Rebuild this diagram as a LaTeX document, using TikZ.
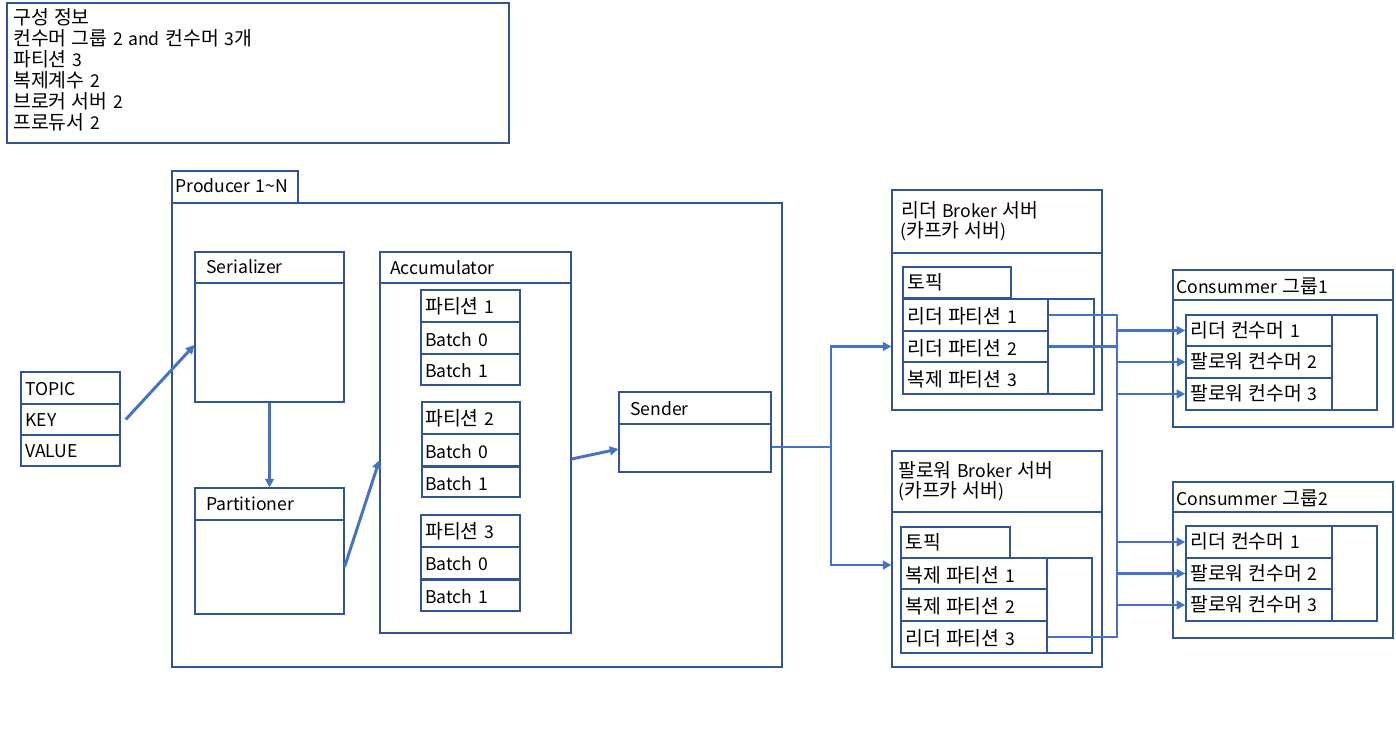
\documentclass[tikz,border=0pt]{standalone}
\usepackage{fontspec}
\setmainfont{Noto Sans CJK KR}[WordSpace=1.4]
\newfontfamily\krf{Noto Sans CJK KR}[Scale=1.1,WordSpace=1.2]
\newcommand\K[1]{{\krf #1}}
\usetikzlibrary{arrows.meta,fit,calc}
\definecolor{bx}{HTML}{2F5597}
\definecolor{ln}{HTML}{4472C4}
\tikzset{
  box/.style={draw=bx, line width=0.8pt, inner sep=0pt},
  row/.style={draw=bx, line width=1.1pt, inner sep=0pt},
  sep/.style={draw=bx, line width=0.8pt},
  txt/.style={anchor=base west, inner sep=0pt, font=\fontsize{13.2}{15}\selectfont, text=black},
  conn/.style={draw=ln, line width=2.2pt, -{Triangle[length=6.5pt,width=6.5pt]}},
  bus/.style={draw=ln, line width=2pt},
}
\begin{document}
\begin{tikzpicture}[x=0.75pt,y=-0.75pt]
\useasboundingbox (0,0) rectangle (1396,742);
\fill[white] (0,0) rectangle (1396,742);

% info box
\node[box, fit={(7,3)(509,143)}] (info) {};
\node[txt] (i1) at (13,24.5) {\K{구성 정보}};
\node[txt] (i2) at (13,45.5) {\K{컨수머 그룹} 2 and \K{컨수머} 3\K{개}};
\node[txt] (i3) at (13,66.5) {\K{파티션} 3};
\node[txt] (i4) at (13,87.5) {\K{복제계수} 2};
\node[txt] (i5) at (13,108.5) {\K{브로커 서버} 2};
\node[txt] (i6) at (13,129.5) {\K{프로듀서} 2};

% producer
\node[box, fit={(172,171)(298,203)}] (ptab) {};
\node[txt] at (175,192) {Producer 1\textasciitilde N};
\node[box, fit={(172,203)(782,667)}] (prod) {};

% record
\node[box, fit={(21,372)(120,404)}] (topic) {};
\node[row, fit={(21,404)(120,435)}] (key) {};
\node[box, fit={(21,435)(120,466)}] (value) {};
\node[txt] at (25,395) {TOPIC};
\node[txt] at (25,426) {KEY};
\node[txt] at (25,457) {VALUE};

% serializer
\node[box, fit={(195,252)(344,402)}] (ser) {};
\draw[sep] (195,283) -- (344,283);
\node[txt] at (206,273) {Serializer};

% partitioner
\node[box, fit={(195,488)(344,614)}] (part) {};
\draw[sep] (195,520) -- (344,520);
\node[txt] at (206,510) {Partitioner};

% accumulator
\node[box, fit={(380,252)(571,633)}] (acc) {};
\draw[sep] (380,283) -- (571,283);
\node[txt] at (390,274) {Accumulator};

\node[box, fit={(421,290)(520,322)}] (p1) {};
\node[row, fit={(421,322)(520,354)}] (p1b0) {};
\node[box, fit={(421,354)(520,385)}] (p1b1) {};
\node[txt] at (425,313) {\K{파티션} 1};
\node[txt] at (425,346) {Batch 0};
\node[txt] at (425,377) {Batch 1};

\node[box, fit={(422,402)(520,434)}] (p2) {};
\node[row, fit={(422,434)(520,466)}] (p2b0) {};
\node[box, fit={(422,467)(520,497)}] (p2b1) {};
\node[txt] at (425,425) {\K{파티션} 2};
\node[txt] at (425,458) {Batch 0};
\node[txt] at (425,490) {Batch 1};

\node[box, fit={(421,515)(520,547)}] (p3) {};
\node[row, fit={(421,547)(520,579)}] (p3b0) {};
\node[box, fit={(421,580)(520,611)}] (p3b1) {};
\node[txt] at (425,538) {\K{파티션} 3};
\node[txt] at (425,570) {Batch 0};
\node[txt] at (425,603) {Batch 1};

% sender
\node[box, fit={(619,392)(771,472)}] (snd) {};
\draw[sep] (619,424) -- (771,424);
\node[txt] at (630,415.5) {Sender};

% leader broker
\node[box, fit={(892,190)(1102,410)}] (lb) {};
\draw[sep] (892,253) -- (1102,253);
\node[txt] at (901,217) {\K{리더} Broker \K{서버}};
\node[txt] at (900,237) {(\K{카프카 서버})};
\node[box, fit={(903,267)(1011,298)}] (ltop) {};
\node[txt] at (907,289) {\K{토픽}};
\node[box, fit={(903,299)(1094,394)}] (lcont) {};
\node[row, fit={(903,299)(1048,331)}] (lp1) {};
\node[row, fit={(903,331)(1048,362)}] (lp2) {};
\node[row, fit={(903,362)(1048,394)}] (lp3) {};
\node[txt] at (907,323) {\K{리더 파티션} 1};
\node[txt] at (907,355) {\K{리더 파티션} 2};
\node[txt] at (907,386) {\K{복제 파티션} 3};

% follower broker
\node[box, fit={(892,451)(1102,667)}] (fb) {};
\draw[sep] (892,512) -- (1102,512);
\node[txt] at (898,477) {\K{팔로워} Broker \K{서버}};
\node[txt] at (898,497) {(\K{카프카 서버})};
\node[box, fit={(901,527)(1010,558)}] (ftop) {};
\node[txt] at (905,549) {\K{토픽}};
\node[box, fit={(901,558)(1092,653)}] (fcont) {};
\node[row, fit={(901,558)(1047,589)}] (fp1) {};
\node[row, fit={(901,589)(1047,621)}] (fp2) {};
\node[row, fit={(901,621)(1047,653)}] (fp3) {};
\node[txt] at (905,582) {\K{복제 파티션} 1};
\node[txt] at (905,613) {\K{복제 파티션} 2};
\node[txt] at (905,645) {\K{리더 파티션} 3};

% consumer group 1
\node[box, fit={(1173,270)(1393,427)}] (cg1) {};
\draw[sep] (1173,300) -- (1393,300);
\node[txt] at (1176,293) {Consummer \K{그룹}1};
\node[box, fit={(1186,315)(1377,410)}] (c1cont) {};
\node[row, fit={(1186,315)(1332,346)}] (c1a) {};
\node[box, fit={(1186,346)(1332,378)}] (c1b) {};
\node[row, fit={(1186,378)(1332,410)}] (c1c) {};
\node[txt] at (1190,337.5) {\K{리더 컨수머} 1};
\node[txt] at (1190,368.5) {\K{팔로워 컨수머} 2};
\node[txt] at (1190,400.5) {\K{팔로워 컨수머} 3};

% consumer group 2
\node[box, fit={(1173,482)(1393,638)}] (cg2) {};
\draw[sep] (1173,512) -- (1393,512);
\node[txt] at (1176,505) {Consummer \K{그룹}2};
\node[box, fit={(1186,526)(1377,621)}] (c2cont) {};
\node[row, fit={(1186,526)(1332,558)}] (c2a) {};
\node[row, fit={(1186,558)(1332,589)}] (c2b) {};
\node[row, fit={(1186,589)(1332,621)}] (c2c) {};
\node[txt] at (1190,548.5) {\K{리더 컨수머} 1};
\node[txt] at (1190,580) {\K{팔로워 컨수머} 2};
\node[txt] at (1190,611.5) {\K{팔로워 컨수머} 3};

% connectors in producer
\draw[conn] ($(key.east)+(5,0)$) -- ($(ser.west)+(0,18)$);
\draw[conn] (ser.south) -- (part.north);
\draw[conn] ($(part.east)+(0,16)$) -- ($(acc.west)+(0,17.5)$);
\draw[conn] ($(acc.east)+(0,16.5)$) -- ($(snd.west)+(0,17)$);

% sender to brokers
\coordinate (sj) at (831,447);
\draw[conn] ($(snd.east)+(0,15)$) -- (sj) |- (lb.west |- lp2.west);
\draw[conn] (sj) |- ($(fb.west)+(0,6)$);

% brokers to consumers
\coordinate (bx) at (1117,0);
\draw[bus] (lp1.east) -- (lp1.east -| bx) -- (fp3.east -| bx) -- (fp3.east);
\draw[bus] (lp2.east) -- (lp2.east -| bx);
\draw[conn] (c1a.west -| bx) -- (c1a.west);
\draw[conn] (c1b.west -| bx) -- (c1b.west);
\draw[conn] (c1c.west -| bx) -- (c1c.west);
\draw[conn] (c2a.west -| bx) -- (c2a.west);
\draw[conn] (c2b.west -| bx) -- (c2b.west);
\draw[conn] (c2c.west -| bx) -- (c2c.west);
\end{tikzpicture}
\end{document}
